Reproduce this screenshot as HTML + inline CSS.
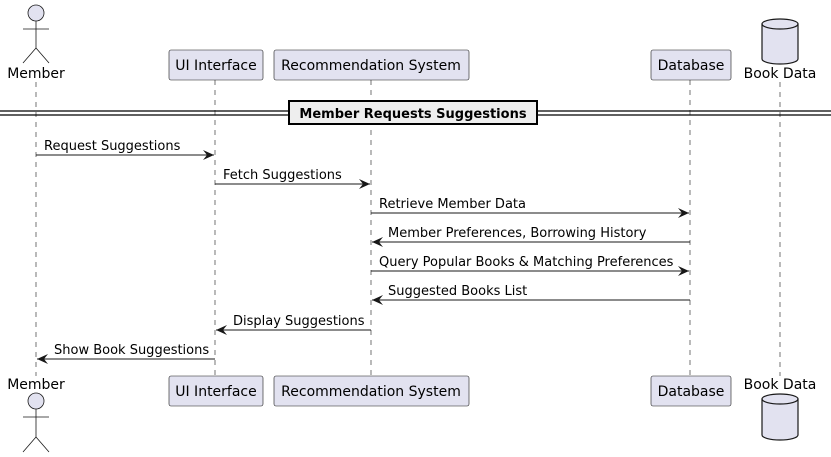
<!DOCTYPE html>
<html><head><meta charset="utf-8"><style>
html,body{margin:0;padding:0;background:#fff;}
svg{display:block;font-family:"DejaVu Sans","Liberation Sans",sans-serif;}
</style></head><body>
<svg width="831" height="457" viewBox="0 0 831 457" xmlns="http://www.w3.org/2000/svg">
<defs>
<marker id="ah" markerWidth="12" markerHeight="10" refX="11" refY="5" orient="auto" markerUnits="userSpaceOnUse">
<path d="M0,0 L11,5 L0,10 L4,5 Z" fill="#181818"/>
</marker>
</defs>
<g stroke="#181818" stroke-width="0.6" stroke-dasharray="5,5">
<line x1="36" y1="82" x2="36" y2="376"/>
<line x1="215" y1="80" x2="215" y2="376"/>
<line x1="371" y1="80" x2="371" y2="376"/>
<line x1="690" y1="80" x2="690" y2="376"/>
<line x1="780" y1="82" x2="780" y2="376"/>
</g>
<g stroke="#181818" stroke-width="0.8" fill="#E2E2F0">
<circle cx="36" cy="13" r="8"/>
<line x1="36" y1="21" x2="36" y2="48"/><line x1="23" y1="29" x2="49" y2="29"/>
<line x1="36" y1="48" x2="23" y2="63"/><line x1="36" y1="48" x2="49" y2="63"/>
<circle cx="36" cy="401" r="8"/>
<line x1="36" y1="409" x2="36" y2="437"/><line x1="23" y1="417" x2="49" y2="417"/>
<line x1="36" y1="437" x2="23" y2="452"/><line x1="36" y1="437" x2="49" y2="452"/>
</g>
<g stroke="#181818" stroke-width="0.6" fill="#E2E2F0">
<rect x="169" y="50" width="94" height="30" rx="2"/>
<rect x="274" y="50" width="195" height="30" rx="2"/>
<rect x="651" y="50" width="80" height="30" rx="2"/>
<rect x="169" y="376" width="94" height="30" rx="2"/>
<rect x="274" y="376" width="195" height="30" rx="2"/>
<rect x="651" y="376" width="80" height="30" rx="2"/>
</g>
<g stroke="#181818" stroke-width="1.2" fill="#E2E2F0">
<path d="M762,24 A18,5 0 0 1 798,24 L798,59 A18,5 0 0 1 762,59 Z"/>
<path d="M762,24 A18,5 0 0 0 798,24" fill="none"/>
<path d="M762,399 A18,5 0 0 1 798,399 L798,435 A18,5 0 0 1 762,435 Z"/>
<path d="M762,399 A18,5 0 0 0 798,399" fill="none"/>
</g>
<g font-size="14" fill="#000" text-anchor="middle">
<text x="36" y="78">Member</text>
<text x="216" y="70">UI Interface</text>
<text x="371" y="70">Recommendation System</text>
<text x="691" y="70">Database</text>
<text x="780" y="78">Book Data</text>
<text x="36" y="389">Member</text>
<text x="216" y="396">UI Interface</text>
<text x="371" y="396">Recommendation System</text>
<text x="691" y="396">Database</text>
<text x="780" y="389">Book Data</text>
</g>
<g stroke="#000" stroke-width="1.2">
<line x1="0" y1="111" x2="831" y2="111"/>
<line x1="0" y1="115" x2="831" y2="115"/>
</g>
<rect x="289" y="101" width="248" height="23" fill="#EEEEEE" stroke="#000" stroke-width="2"/>
<text x="413" y="118" font-size="13" font-weight="bold" text-anchor="middle">Member Requests Suggestions</text>
<g stroke="#181818" stroke-width="1" marker-end="url(#ah)">
<line x1="36" y1="155" x2="214" y2="155"/>
<line x1="215" y1="184" x2="370" y2="184"/>
<line x1="371" y1="213" x2="689" y2="213"/>
<line x1="690" y1="242" x2="372" y2="242"/>
<line x1="371" y1="271" x2="689" y2="271"/>
<line x1="690" y1="300" x2="372" y2="300"/>
<line x1="371" y1="330" x2="216" y2="330"/>
<line x1="215" y1="359" x2="37" y2="359"/>
</g>
<g font-size="13" fill="#000">
<text x="44" y="150">Request Suggestions</text>
<text x="223" y="179">Fetch Suggestions</text>
<text x="379" y="208">Retrieve Member Data</text>
<text x="388" y="237">Member Preferences, Borrowing History</text>
<text x="379" y="266">Query Popular Books &amp; Matching Preferences</text>
<text x="388" y="295">Suggested Books List</text>
<text x="233" y="325">Display Suggestions</text>
<text x="54" y="354">Show Book Suggestions</text>
</g>
</svg>
</body></html>
